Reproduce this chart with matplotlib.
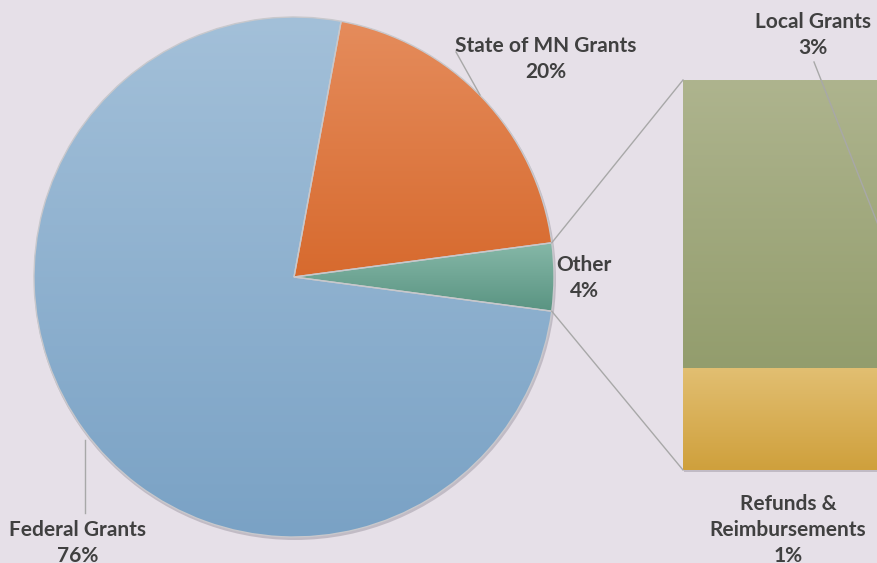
import numpy as np
import matplotlib
matplotlib.use("Agg")
import matplotlib.pyplot as plt
from matplotlib.colors import to_rgb
from matplotlib.patches import Circle

# Revenue shares (%)
pie_labels = ["Other", "State of MN Grants", "Federal Grants"]
pie_values = [4.2, 20.0, 75.8]
bar_labels = ["Refunds &\nReimbursements", "Local Grants"]
bar_values = [1.1, 3.1]

# gradient colours (top, bottom)
pie_grad = [("#86b8a8", "#5a9482"), ("#e58c5c", "#d76a2e"), ("#a3c0d9", "#7aa2c5")]
bar_grad = [("#e2bf72", "#cfa03c"), ("#aeb48e", "#939d6d")]

W, H = 878, 563
bg = "#e6e0e8"
txt = "#404040"
line = "#a8a8a8"

fig = plt.figure(figsize=(W / 100, H / 100), dpi=100, facecolor=bg)
ax = fig.add_axes([0, 0, 1, 1])


def py(y):
    return H - y


def gradient_fill(patch, top, bottom, ext, z):
    c = np.linspace(0, 1, 256)[:, None, None]
    img = (1 - c) * np.array(to_rgb(top)) + c * np.array(to_rgb(bottom))
    im = ax.imshow(img, extent=(ext.x0, ext.x1, ext.y0, ext.y1), origin="upper",
                   aspect="auto", zorder=z, interpolation="bilinear")
    im.set_clip_path(patch)


center = (294, py(277))
radius = 260
start = -pie_values[0] * 3.6 / 2

# soft shadow
ax.add_patch(Circle((center[0] + 1, center[1] - 2), radius + 1,
                    color="#7d7884", alpha=0.35, zorder=1, lw=0))

wedges, _ = ax.pie(pie_values, startangle=start, counterclock=True,
                   center=center, radius=radius, frame=True,
                   wedgeprops=dict(facecolor="none", edgecolor="#c8c8cc", linewidth=1))
for w, (t, b) in zip(wedges, pie_grad):
    w.set_zorder(3)
    gradient_fill(w, t, b, w.get_path().get_extents(), 2)
ax.set_xlim(0, W)
ax.set_ylim(0, H)
ax.set_aspect("auto")
ax.axis("off")

# bar of pie
bar_x, bar_w = 788, 210
bar_bottom, bar_height = py(470), 390
scale = bar_height / sum(bar_values)
heights = [v * scale for v in bar_values]
bottoms = [bar_bottom, bar_bottom + heights[0]]
bars = ax.bar([bar_x, bar_x], heights, width=bar_w, bottom=bottoms,
              color="none", edgecolor="none", zorder=3)
ax.add_patch(plt.Rectangle((bar_x - bar_w / 2 + 1, bar_bottom - 2), bar_w, bar_height,
                           color="#7d7884", alpha=0.35, zorder=1, lw=0))
for r, (t, b) in zip(bars.patches, bar_grad):
    gradient_fill(r, t, b, r.get_bbox(), 2)

# connector lines from "Other" wedge to the bar
th1, th2 = np.radians(wedges[0].theta1), np.radians(wedges[0].theta2)
x_left = bar_x - bar_w / 2
ax.plot([center[0] + radius * np.cos(th2), x_left],
        [center[1] + radius * np.sin(th2), bar_bottom + bar_height],
        color=line, lw=1, zorder=4)
ax.plot([center[0] + radius * np.cos(th1), x_left],
        [center[1] + radius * np.sin(th1), bar_bottom],
        color=line, lw=1, zorder=4)

font = dict(family="Lato", weight="bold", fontsize=15, color=txt,
            ha="center", va="center", linespacing=1.4, zorder=5)

# labels
ax.text(546, py(59), f"{pie_labels[1]}\n{pie_values[1]:.0f}%", **font)
ax.plot([456, 480], [py(52), py(95)], color=line, lw=1, zorder=4)
ax.text(584, py(278), f"{pie_labels[0]}\n{pie_values[0]:.0f}%", **font)
ax.text(78, py(543), f"{pie_labels[2]}\n{pie_values[2]:.0f}%", **font)
ax.plot([85, 85], [py(440), py(513)], color=line, lw=1, zorder=4)
ax.text(813, py(35), f"{bar_labels[1]}\n{bar_values[1]:.0f}%", **font)
ax.plot([814, 884], [py(62), py(240)], color=line, lw=1, zorder=4)
ax.text(788, py(530), f"{bar_labels[0]}\n{bar_values[0]:.0f}%", **font)

fig.savefig("out.png", dpi=100, facecolor=bg)
